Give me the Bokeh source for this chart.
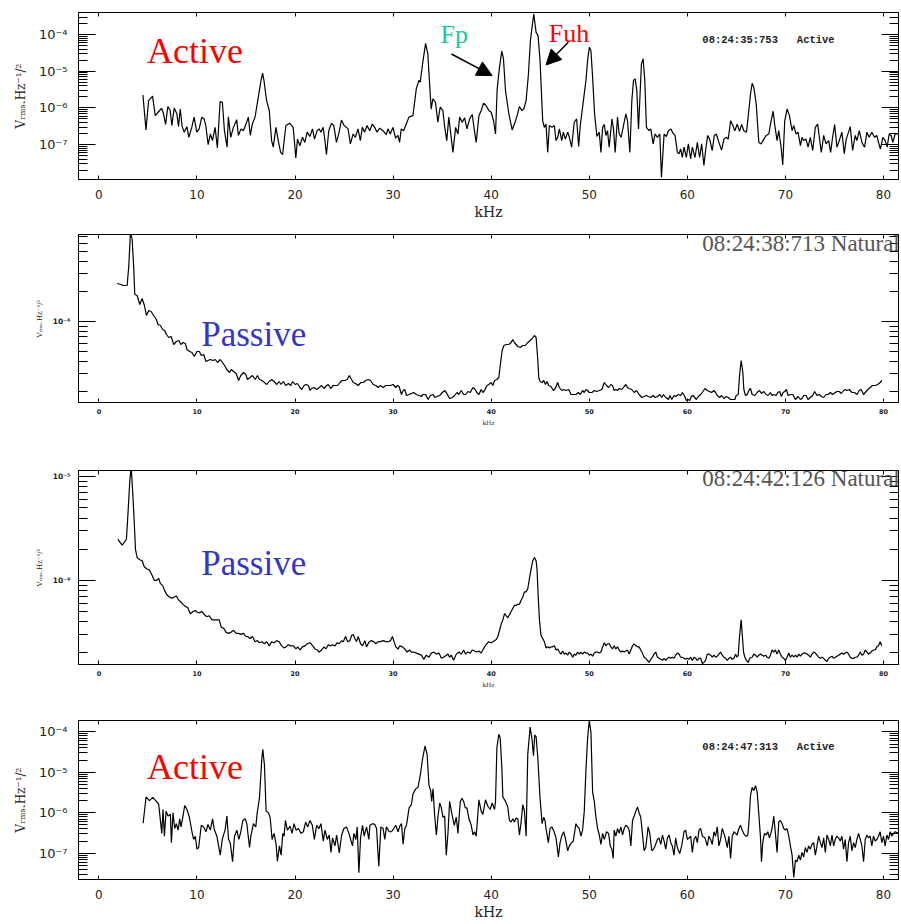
import numpy as np
from bokeh.plotting import figure
from bokeh.layouts import column
from bokeh.models import (Range1d, FixedTicker, LinearAxis, LogAxis, Label, Arrow,
                          NormalHead, CustomJSTickFormatter)
from bokeh.embed import file_html
from bokeh.resources import INLINE

# ---------------- data: (frequency kHz, log10 of V_rms.Hz^-1/2) ----------------
active1 = [
    (4.49, -5.65), (4.80, -6.60), (5.07, -5.80), (5.47, -5.68), (5.75, -6.21), (6.19, -6.07),
    (6.39, -6.01), (6.59, -6.16), (6.80, -6.45), (7.03, -5.96), (7.27, -6.07), (7.44, -6.48),
    (7.68, -6.00), (7.95, -6.16), (8.12, -6.51), (8.29, -6.03), (8.49, -6.51), (8.69, -6.66),
    (8.97, -6.51), (9.17, -6.80), (9.47, -6.53), (9.71, -6.25), (9.98, -6.66), (10.22, -6.57),
    (10.49, -6.25), (10.73, -6.30), (10.90, -6.48), (11.14, -7.00), (11.37, -6.71), (11.58, -6.89),
    (11.85, -6.53), (12.08, -7.09), (12.36, -5.83), (12.59, -5.85), (12.80, -6.62), (13.07, -7.07),
    (13.20, -6.24), (13.44, -6.80), (13.71, -6.53), (14.05, -6.32), (14.22, -6.75), (14.49, -6.57),
    (14.73, -6.62), (15.00, -6.44), (15.24, -6.25), (15.44, -6.75), (15.64, -6.44), (15.92, -6.25),
    (16.25, -5.71), (16.53, -5.25), (16.69, -5.05), (16.83, -5.25), (17.10, -5.80), (17.37, -6.07),
    (17.61, -6.89), (17.78, -7.07), (18.05, -6.53), (18.29, -6.89), (18.53, -7.21), (18.73, -7.27),
    (19.07, -6.48), (19.47, -6.42), (19.81, -6.53), (20.08, -7.36), (20.25, -6.85), (20.49, -7.03),
    (20.76, -6.80), (21.00, -6.94), (21.24, -6.66), (21.51, -6.78), (21.78, -6.57), (21.98, -6.85),
    (22.25, -6.62), (22.46, -6.57), (22.63, -6.66), (22.86, -6.53), (23.03, -6.85), (23.20, -7.27),
    (23.44, -6.62), (23.71, -6.42), (23.95, -6.48), (24.22, -6.94), (24.49, -6.66), (24.73, -6.33),
    (25.00, -6.48), (25.41, -6.57), (25.64, -6.98), (25.92, -6.71), (26.15, -6.80), (26.42, -6.57),
    (26.66, -6.89), (26.86, -6.53), (27.10, -6.66), (27.34, -6.48), (27.61, -6.62), (27.88, -6.44),
    (28.12, -6.53), (28.36, -6.66), (28.63, -6.55), (28.97, -6.62), (29.31, -6.73), (29.47, -6.57),
    (29.71, -6.71), (29.98, -6.53), (30.25, -6.82), (30.49, -6.75), (30.66, -6.94), (30.83, -6.57),
    (31.07, -6.62), (31.34, -6.44), (31.61, -6.25), (32.02, -6.21), (32.36, -5.48), (32.63, -5.25),
    (32.76, -5.30), (33.03, -4.75), (33.31, -4.24), (33.54, -4.53), (33.71, -5.30), (33.88, -6.03),
    (34.05, -5.75), (34.32, -5.85), (34.56, -6.39), (34.80, -5.98), (35.07, -6.07), (35.24, -6.48),
    (35.47, -6.89), (35.68, -6.25), (36.10, -7.21), (36.37, -6.53), (36.61, -6.71), (36.78, -6.25),
    (37.05, -6.39), (37.29, -6.27), (37.53, -6.57), (37.80, -6.30), (38.07, -6.18), (38.31, -6.66),
    (38.47, -6.94), (38.75, -6.21), (38.98, -6.07), (39.22, -5.87), (39.49, -5.94), (39.76, -6.07),
    (40.00, -6.12), (40.24, -6.35), (40.44, -6.71), (40.61, -5.48), (40.85, -4.89), (41.08, -4.45),
    (41.25, -4.66), (41.46, -5.53), (41.80, -6.16), (42.14, -6.60), (42.37, -6.44), (42.64, -6.21),
    (42.88, -5.96), (43.12, -6.07), (43.32, -6.03), (43.56, -5.80), (43.80, -5.07), (44.00, -4.16),
    (44.34, -3.44), (44.58, -3.94), (44.78, -4.03), (44.98, -4.71), (45.25, -6.35), (45.42, -6.53),
    (45.59, -6.44), (45.76, -7.21), (45.93, -6.48), (46.20, -6.53), (46.44, -6.48), (46.61, -6.89),
    (46.78, -6.80), (46.95, -6.57), (47.19, -6.89), (47.36, -6.66), (47.56, -6.85), (47.80, -6.66),
    (47.97, -6.80), (48.20, -7.07), (48.47, -6.39), (48.71, -6.30), (48.92, -7.05), (49.08, -6.48),
    (49.32, -5.98), (49.66, -5.25), (49.83, -4.71), (50.00, -4.35), (50.17, -4.44), (50.34, -5.16),
    (50.54, -6.16), (50.78, -6.78), (51.02, -6.66), (51.19, -7.21), (51.36, -6.53), (51.53, -6.45),
    (51.69, -6.75), (51.86, -6.62), (52.03, -7.07), (52.31, -6.30), (52.47, -6.57), (52.64, -7.21),
    (52.88, -6.25), (53.05, -6.71), (53.25, -6.80), (53.49, -6.48), (53.73, -6.16), (53.90, -6.35),
    (54.14, -7.21), (54.34, -5.80), (54.51, -5.25), (54.68, -5.21), (54.85, -5.53), (55.02, -6.57),
    (55.15, -5.80), (55.32, -4.80), (55.49, -4.66), (55.66, -5.25), (55.83, -6.53), (56.10, -6.62),
    (56.27, -6.57), (56.51, -6.98), (56.71, -6.71), (56.95, -6.80), (57.19, -6.71), (57.36, -7.89),
    (57.63, -6.71), (57.86, -6.78), (58.07, -6.62), (58.31, -6.57), (58.54, -6.69), (58.75, -6.75),
    (58.98, -7.21), (59.15, -7.25), (59.32, -7.12), (59.49, -7.35), (59.66, -7.07), (59.90, -7.35),
    (60.10, -6.98), (60.34, -7.39), (60.51, -7.07), (60.78, -7.35), (61.02, -6.94), (61.25, -7.35),
    (61.46, -6.98), (61.69, -7.57), (61.86, -7.16), (62.07, -6.75), (62.27, -6.85), (62.54, -7.16),
    (62.75, -6.75), (62.95, -6.71), (63.22, -6.94), (63.49, -7.15), (63.73, -6.85), (63.97, -6.80),
    (64.17, -6.85), (64.41, -6.35), (64.64, -6.48), (64.85, -6.62), (65.08, -6.44), (65.32, -6.64),
    (65.53, -6.45), (65.76, -6.62), (66.03, -6.66), (66.27, -6.07), (66.44, -5.62), (66.61, -5.33),
    (66.78, -5.44), (67.02, -5.89), (67.29, -6.94), (67.53, -6.98), (67.80, -6.85), (68.03, -6.75),
    (68.31, -6.71), (68.54, -6.35), (68.75, -6.09), (68.92, -6.48), (69.15, -6.89), (69.32, -6.62),
    (69.56, -7.07), (69.73, -7.55), (69.93, -6.35), (70.17, -6.03), (70.41, -6.21), (70.68, -6.62),
    (70.85, -6.48), (71.08, -6.71), (71.29, -6.66), (71.53, -7.03), (71.69, -6.80), (71.86, -6.89),
    (72.10, -6.85), (72.31, -7.07), (72.54, -6.80), (72.78, -7.16), (73.05, -6.53), (73.29, -6.44),
    (73.46, -6.80), (73.66, -7.21), (73.90, -6.75), (74.14, -6.98), (74.41, -6.89), (74.61, -7.21),
    (74.81, -6.80), (75.02, -6.45), (75.25, -7.07), (75.49, -6.89), (75.76, -6.66), (76.00, -7.25),
    (76.20, -6.85), (76.44, -6.66), (76.61, -6.51), (76.85, -7.16), (77.12, -6.75), (77.29, -6.89),
    (77.53, -6.62), (77.80, -6.94), (78.07, -7.07), (78.31, -6.66), (78.54, -6.80), (78.81, -6.66),
    (79.08, -6.80), (79.32, -6.75), (79.49, -6.94), (79.69, -7.12), (79.93, -6.80), (80.17, -6.89),
    (80.37, -7.07), (80.58, -6.71), (80.78, -6.75), (80.95, -6.94), (81.19, -6.71), (81.53, -6.71),
]

passive1 = [
    (1.86, -5.62), (2.27, -5.63), (2.47, -5.64), (2.71, -5.64), (2.88, -5.64), (3.05, -5.44),
    (3.22, -5.10), (3.39, -5.18), (3.56, -5.48), (3.66, -5.73), (3.90, -5.74), (4.17, -5.83),
    (4.41, -5.77), (4.64, -5.84), (4.85, -5.94), (5.08, -5.89), (5.32, -5.90), (5.59, -5.94),
    (5.86, -5.98), (6.03, -6.03), (6.27, -6.04), (6.51, -6.08), (6.71, -6.09), (6.88, -6.13),
    (7.12, -6.16), (7.36, -6.15), (7.63, -6.23), (7.90, -6.20), (8.14, -6.19), (8.37, -6.23),
    (8.58, -6.21), (8.81, -6.22), (8.98, -6.28), (9.25, -6.30), (9.49, -6.31), (9.73, -6.35),
    (10.00, -6.30), (10.24, -6.30), (10.44, -6.34), (10.68, -6.33), (10.92, -6.40), (11.12, -6.39),
    (11.36, -6.38), (11.63, -6.39), (11.86, -6.38), (12.10, -6.41), (12.37, -6.38), (12.61, -6.41),
    (12.81, -6.44), (13.05, -6.48), (13.32, -6.51), (13.49, -6.48), (13.73, -6.50), (14.00, -6.52),
    (14.24, -6.59), (14.47, -6.54), (14.75, -6.51), (14.98, -6.53), (15.15, -6.58), (15.42, -6.56),
    (15.66, -6.54), (15.93, -6.58), (16.17, -6.54), (16.37, -6.58), (16.61, -6.59), (16.88, -6.61),
    (17.12, -6.63), (17.36, -6.60), (17.63, -6.58), (17.86, -6.60), (18.14, -6.63), (18.37, -6.60),
    (18.58, -6.63), (18.81, -6.60), (19.05, -6.64), (19.32, -6.62), (19.56, -6.64), (19.76, -6.60),
    (20.00, -6.63), (20.24, -6.62), (20.51, -6.66), (20.68, -6.68), (20.92, -6.64), (21.12, -6.63),
    (21.36, -6.64), (21.53, -6.69), (21.69, -6.67), (21.93, -6.66), (22.20, -6.68), (22.47, -6.66),
    (22.71, -6.64), (22.95, -6.67), (23.22, -6.64), (23.39, -6.63), (23.63, -6.67), (23.90, -6.64),
    (24.14, -6.64), (24.34, -6.64), (24.58, -6.61), (24.81, -6.59), (25.08, -6.59), (25.32, -6.58),
    (25.53, -6.54), (25.76, -6.58), (25.93, -6.61), (26.17, -6.62), (26.44, -6.64), (26.71, -6.61),
    (26.95, -6.61), (27.22, -6.59), (27.46, -6.58), (27.69, -6.59), (27.97, -6.63), (28.24, -6.64),
    (28.47, -6.66), (28.71, -6.64), (28.98, -6.66), (29.25, -6.64), (29.49, -6.64), (29.73, -6.64),
    (30.00, -6.63), (30.27, -6.66), (30.44, -6.64), (30.61, -6.65), (30.85, -6.73), (31.02, -6.69),
    (31.19, -6.68), (31.36, -6.74), (31.63, -6.73), (31.86, -6.72), (32.10, -6.71), (32.37, -6.73),
    (32.64, -6.74), (32.88, -6.75), (33.05, -6.73), (33.32, -6.73), (33.56, -6.78), (33.80, -6.74),
    (34.07, -6.73), (34.24, -6.76), (34.47, -6.75), (34.75, -6.74), (35.02, -6.71), (35.25, -6.69),
    (35.42, -6.71), (35.59, -6.74), (35.76, -6.77), (36.03, -6.76), (36.27, -6.74), (36.51, -6.71),
    (36.71, -6.73), (36.95, -6.69), (37.19, -6.73), (37.39, -6.73), (37.63, -6.70), (37.86, -6.71),
    (38.14, -6.66), (38.37, -6.68), (38.54, -6.71), (38.75, -6.73), (38.98, -6.68), (39.15, -6.71),
    (39.32, -6.69), (39.56, -6.64), (39.76, -6.63), (40.00, -6.61), (40.17, -6.64), (40.34, -6.59),
    (40.58, -6.58), (40.78, -6.56), (40.92, -6.44), (41.12, -6.29), (41.29, -6.24), (41.53, -6.23),
    (41.80, -6.23), (42.03, -6.21), (42.20, -6.18), (42.37, -6.21), (42.54, -6.23), (42.71, -6.25),
    (42.95, -6.26), (43.22, -6.24), (43.49, -6.24), (43.73, -6.21), (43.97, -6.19), (44.17, -6.17),
    (44.41, -6.14), (44.58, -6.16), (44.75, -6.38), (44.85, -6.56), (44.98, -6.60), (45.19, -6.61),
    (45.36, -6.59), (45.53, -6.63), (45.69, -6.60), (45.86, -6.64), (46.10, -6.65), (46.34, -6.69),
    (46.54, -6.67), (46.78, -6.61), (46.95, -6.66), (47.19, -6.69), (47.39, -6.68), (47.63, -6.69),
    (47.90, -6.68), (48.14, -6.73), (48.37, -6.73), (48.64, -6.73), (48.88, -6.71), (49.08, -6.73),
    (49.32, -6.69), (49.49, -6.71), (49.66, -6.68), (49.83, -6.69), (50.00, -6.71), (50.27, -6.71),
    (50.51, -6.69), (50.75, -6.70), (51.02, -6.69), (51.29, -6.68), (51.53, -6.61), (51.76, -6.64),
    (51.97, -6.66), (52.20, -6.63), (52.37, -6.64), (52.54, -6.69), (52.71, -6.68), (52.88, -6.69),
    (53.05, -6.67), (53.32, -6.68), (53.56, -6.65), (53.73, -6.63), (53.90, -6.66), (54.07, -6.67),
    (54.34, -6.68), (54.58, -6.71), (54.81, -6.69), (55.08, -6.73), (55.36, -6.76), (55.59, -6.75),
    (55.83, -6.74), (56.03, -6.75), (56.27, -6.76), (56.51, -6.74), (56.71, -6.76), (56.95, -6.75),
    (57.19, -6.73), (57.39, -6.76), (57.56, -6.73), (57.80, -6.76), (58.07, -6.78), (58.24, -6.74),
    (58.41, -6.78), (58.64, -6.74), (58.81, -6.75), (59.08, -6.73), (59.32, -6.74), (59.49, -6.71),
    (59.69, -6.74), (59.90, -6.79), (60.07, -6.78), (60.24, -6.79), (60.41, -6.75), (60.58, -6.74),
    (60.75, -6.76), (60.92, -6.78), (61.12, -6.75), (61.36, -6.73), (61.59, -6.70), (61.80, -6.67),
    (62.03, -6.69), (62.27, -6.70), (62.47, -6.71), (62.71, -6.69), (62.88, -6.71), (63.05, -6.74),
    (63.29, -6.76), (63.49, -6.74), (63.73, -6.77), (63.97, -6.75), (64.17, -6.76), (64.41, -6.78),
    (64.64, -6.78), (64.85, -6.78), (64.98, -6.74), (65.19, -6.73), (65.32, -6.54), (65.49, -6.39),
    (65.66, -6.51), (65.76, -6.68), (65.93, -6.74), (66.10, -6.73), (66.27, -6.69), (66.44, -6.67),
    (66.61, -6.73), (66.88, -6.74), (67.12, -6.71), (67.36, -6.69), (67.56, -6.72), (67.80, -6.70),
    (68.03, -6.73), (68.24, -6.74), (68.47, -6.71), (68.64, -6.74), (68.81, -6.73), (69.05, -6.74),
    (69.22, -6.71), (69.42, -6.70), (69.59, -6.75), (69.76, -6.71), (69.93, -6.70), (70.10, -6.68),
    (70.27, -6.74), (70.51, -6.73), (70.75, -6.73), (71.02, -6.78), (71.29, -6.75), (71.53, -6.78),
    (71.69, -6.77), (71.86, -6.74), (72.10, -6.74), (72.31, -6.78), (72.54, -6.76), (72.78, -6.74),
    (72.98, -6.70), (73.22, -6.74), (73.46, -6.73), (73.66, -6.75), (73.90, -6.76), (74.14, -6.73),
    (74.34, -6.73), (74.58, -6.71), (74.81, -6.73), (75.08, -6.71), (75.25, -6.70), (75.49, -6.70),
    (75.69, -6.72), (75.93, -6.69), (76.10, -6.68), (76.27, -6.69), (76.51, -6.68), (76.78, -6.71),
    (77.05, -6.71), (77.29, -6.73), (77.53, -6.69), (77.73, -6.68), (77.97, -6.73), (78.14, -6.71),
    (78.41, -6.68), (78.64, -6.66), (78.88, -6.64), (79.15, -6.64), (79.42, -6.63), (79.66, -6.61),
    (79.83, -6.59),
]

passive2 = [
    (1.93, -5.60), (2.14, -5.63), (2.37, -5.66), (2.61, -5.63), (2.81, -5.60), (2.98, -5.33),
    (3.15, -5.04), (3.29, -4.90), (3.46, -5.17), (3.63, -5.49), (3.73, -5.70), (3.90, -5.78),
    (4.17, -5.80), (4.41, -5.81), (4.64, -5.87), (4.92, -5.89), (5.15, -5.90), (5.42, -5.95),
    (5.66, -6.00), (5.86, -6.00), (6.10, -5.98), (6.27, -6.03), (6.51, -6.05), (6.71, -6.10),
    (6.95, -6.14), (7.19, -6.16), (7.46, -6.17), (7.69, -6.16), (7.90, -6.15), (8.14, -6.19),
    (8.37, -6.21), (8.58, -6.23), (8.81, -6.25), (9.05, -6.26), (9.32, -6.32), (9.59, -6.30),
    (9.83, -6.29), (10.07, -6.31), (10.27, -6.31), (10.51, -6.30), (10.75, -6.33), (11.02, -6.35),
    (11.25, -6.34), (11.53, -6.38), (11.76, -6.38), (12.03, -6.38), (12.27, -6.38), (12.47, -6.45),
    (12.71, -6.46), (12.98, -6.50), (13.22, -6.51), (13.46, -6.50), (13.73, -6.48), (14.00, -6.51),
    (14.24, -6.51), (14.47, -6.52), (14.75, -6.51), (14.98, -6.54), (15.15, -6.54), (15.42, -6.56),
    (15.66, -6.54), (15.93, -6.59), (16.17, -6.58), (16.37, -6.60), (16.61, -6.59), (16.88, -6.61),
    (17.12, -6.59), (17.36, -6.63), (17.63, -6.59), (17.86, -6.60), (18.14, -6.58), (18.37, -6.59),
    (18.64, -6.63), (18.88, -6.65), (19.08, -6.64), (19.32, -6.62), (19.56, -6.63), (19.83, -6.63),
    (20.10, -6.66), (20.27, -6.64), (20.51, -6.67), (20.75, -6.64), (21.02, -6.63), (21.25, -6.61),
    (21.53, -6.60), (21.80, -6.63), (22.03, -6.66), (22.27, -6.67), (22.47, -6.69), (22.71, -6.67),
    (22.95, -6.64), (23.15, -6.66), (23.39, -6.62), (23.63, -6.63), (23.83, -6.62), (24.07, -6.63),
    (24.31, -6.60), (24.51, -6.61), (24.75, -6.58), (24.92, -6.59), (25.15, -6.54), (25.36, -6.59),
    (25.59, -6.58), (25.76, -6.53), (25.93, -6.52), (26.10, -6.56), (26.27, -6.59), (26.44, -6.54),
    (26.68, -6.61), (26.88, -6.63), (27.12, -6.58), (27.29, -6.64), (27.56, -6.59), (27.80, -6.58),
    (28.03, -6.59), (28.24, -6.61), (28.47, -6.59), (28.71, -6.59), (28.98, -6.58), (29.25, -6.59),
    (29.49, -6.59), (29.73, -6.58), (29.93, -6.54), (30.10, -6.59), (30.27, -6.64), (30.51, -6.66),
    (30.68, -6.63), (30.95, -6.64), (31.19, -6.66), (31.42, -6.69), (31.69, -6.67), (31.86, -6.69),
    (32.10, -6.69), (32.37, -6.70), (32.64, -6.71), (32.88, -6.72), (33.12, -6.76), (33.39, -6.72),
    (33.66, -6.74), (33.90, -6.70), (34.14, -6.69), (34.41, -6.71), (34.68, -6.70), (34.92, -6.75),
    (35.15, -6.74), (35.42, -6.72), (35.59, -6.71), (35.76, -6.74), (35.93, -6.72), (36.17, -6.77),
    (36.44, -6.71), (36.71, -6.69), (36.95, -6.71), (37.19, -6.67), (37.39, -6.71), (37.63, -6.69),
    (37.86, -6.70), (38.07, -6.67), (38.31, -6.68), (38.54, -6.69), (38.75, -6.68), (38.98, -6.70),
    (39.15, -6.67), (39.32, -6.64), (39.56, -6.61), (39.76, -6.59), (40.00, -6.60), (40.17, -6.59),
    (40.34, -6.58), (40.51, -6.57), (40.68, -6.54), (40.85, -6.48), (41.02, -6.42), (41.19, -6.38),
    (41.36, -6.32), (41.53, -6.34), (41.69, -6.36), (41.86, -6.33), (42.03, -6.30), (42.20, -6.27),
    (42.37, -6.24), (42.54, -6.24), (42.71, -6.23), (42.88, -6.23), (43.05, -6.19), (43.22, -6.16),
    (43.39, -6.11), (43.56, -6.11), (43.73, -6.08), (43.90, -5.98), (44.07, -5.89), (44.24, -5.81),
    (44.41, -5.78), (44.58, -5.81), (44.68, -5.90), (44.78, -6.13), (44.92, -6.38), (45.08, -6.53),
    (45.25, -6.56), (45.42, -6.59), (45.59, -6.65), (45.76, -6.64), (45.93, -6.65), (46.10, -6.64),
    (46.27, -6.64), (46.44, -6.63), (46.61, -6.67), (46.78, -6.66), (46.95, -6.69), (47.12, -6.71),
    (47.29, -6.68), (47.46, -6.71), (47.63, -6.70), (47.80, -6.72), (47.97, -6.69), (48.14, -6.71),
    (48.31, -6.74), (48.47, -6.71), (48.64, -6.72), (48.81, -6.69), (48.98, -6.71), (49.15, -6.69),
    (49.32, -6.71), (49.49, -6.69), (49.66, -6.70), (49.83, -6.70), (50.00, -6.72), (50.17, -6.71),
    (50.34, -6.73), (50.51, -6.70), (50.68, -6.69), (50.85, -6.69), (51.02, -6.70), (51.19, -6.69),
    (51.36, -6.64), (51.53, -6.60), (51.69, -6.63), (51.86, -6.61), (52.03, -6.61), (52.20, -6.64),
    (52.37, -6.66), (52.54, -6.63), (52.71, -6.66), (52.88, -6.64), (53.05, -6.67), (53.22, -6.69),
    (53.39, -6.68), (53.56, -6.69), (53.73, -6.68), (53.90, -6.67), (54.07, -6.71), (54.24, -6.67),
    (54.41, -6.63), (54.58, -6.61), (54.75, -6.63), (54.92, -6.64), (55.08, -6.64), (55.25, -6.67),
    (55.42, -6.70), (55.59, -6.74), (55.76, -6.75), (55.93, -6.77), (56.10, -6.79), (56.27, -6.76),
    (56.44, -6.74), (56.61, -6.71), (56.78, -6.69), (56.95, -6.74), (57.12, -6.75), (57.29, -6.76),
    (57.46, -6.77), (57.63, -6.75), (57.80, -6.77), (57.97, -6.75), (58.14, -6.74), (58.31, -6.75),
    (58.47, -6.74), (58.64, -6.75), (58.81, -6.72), (58.98, -6.70), (59.15, -6.71), (59.32, -6.74),
    (59.49, -6.74), (59.66, -6.75), (59.83, -6.76), (60.00, -6.75), (60.17, -6.76), (60.34, -6.74),
    (60.51, -6.77), (60.68, -6.74), (60.85, -6.75), (61.02, -6.77), (61.19, -6.75), (61.36, -6.75),
    (61.53, -6.80), (61.69, -6.79), (61.86, -6.77), (62.03, -6.71), (62.20, -6.71), (62.37, -6.72),
    (62.54, -6.74), (62.71, -6.72), (62.88, -6.74), (63.05, -6.73), (63.22, -6.71), (63.39, -6.69),
    (63.56, -6.72), (63.73, -6.74), (63.90, -6.75), (64.07, -6.77), (64.24, -6.75), (64.41, -6.74),
    (64.58, -6.76), (64.75, -6.75), (64.92, -6.71), (65.05, -6.74), (65.19, -6.72), (65.32, -6.54),
    (65.49, -6.38), (65.59, -6.51), (65.73, -6.69), (65.86, -6.74), (66.03, -6.77), (66.20, -6.79),
    (66.37, -6.75), (66.61, -6.74), (66.78, -6.71), (66.95, -6.72), (67.12, -6.74), (67.29, -6.72),
    (67.46, -6.71), (67.63, -6.72), (67.80, -6.73), (67.97, -6.72), (68.14, -6.74), (68.31, -6.75),
    (68.47, -6.72), (68.64, -6.67), (68.81, -6.69), (68.98, -6.67), (69.15, -6.71), (69.32, -6.67),
    (69.49, -6.71), (69.66, -6.74), (69.83, -6.75), (70.00, -6.77), (70.17, -6.74), (70.34, -6.70),
    (70.51, -6.74), (70.68, -6.72), (70.85, -6.74), (71.02, -6.72), (71.19, -6.74), (71.36, -6.71),
    (71.53, -6.73), (71.69, -6.71), (71.86, -6.70), (72.03, -6.70), (72.20, -6.71), (72.37, -6.72),
    (72.54, -6.74), (72.71, -6.71), (72.88, -6.69), (73.05, -6.70), (73.22, -6.72), (73.39, -6.74),
    (73.56, -6.75), (73.73, -6.74), (73.90, -6.75), (74.07, -6.77), (74.24, -6.78), (74.41, -6.75),
    (74.58, -6.74), (74.75, -6.73), (74.92, -6.75), (75.08, -6.74), (75.25, -6.73), (75.42, -6.72),
    (75.59, -6.71), (75.76, -6.70), (75.93, -6.71), (76.10, -6.70), (76.27, -6.69), (76.44, -6.71),
    (76.61, -6.74), (76.78, -6.75), (76.95, -6.75), (77.12, -6.74), (77.29, -6.74), (77.46, -6.72),
    (77.63, -6.69), (77.80, -6.72), (77.97, -6.71), (78.14, -6.67), (78.31, -6.69), (78.47, -6.71),
    (78.64, -6.70), (78.81, -6.68), (78.98, -6.67), (79.15, -6.67), (79.32, -6.64), (79.49, -6.63),
    (79.66, -6.59), (79.83, -6.63),
]

active2 = [
    (4.51, -6.26), (4.81, -5.61), (5.15, -5.70), (5.49, -5.62), (5.86, -5.72), (6.10, -5.79),
    (6.27, -6.19), (6.41, -6.51), (6.54, -5.92), (6.68, -6.58), (6.85, -5.96), (7.05, -6.08),
    (7.29, -6.04), (7.39, -6.74), (7.56, -6.00), (7.73, -6.39), (7.90, -6.27), (8.07, -6.43),
    (8.24, -6.15), (8.37, -6.35), (8.58, -6.08), (8.75, -5.82), (8.98, -5.92), (9.22, -6.11),
    (9.49, -6.47), (9.66, -6.66), (9.83, -6.58), (10.00, -6.90), (10.17, -6.86), (10.44, -6.31),
    (10.68, -6.35), (10.92, -6.47), (11.12, -6.29), (11.36, -6.43), (11.59, -6.15), (11.76, -6.41),
    (12.03, -6.58), (12.37, -7.05), (12.58, -6.66), (12.88, -6.41), (13.05, -6.08), (13.22, -6.66),
    (13.39, -6.74), (13.63, -7.21), (13.83, -6.58), (14.07, -6.43), (14.27, -6.66), (14.47, -6.47),
    (14.68, -6.19), (14.92, -6.15), (15.08, -6.27), (15.36, -6.86), (15.49, -6.58), (15.76, -6.27),
    (16.00, -6.35), (16.14, -6.00), (16.37, -5.64), (16.61, -4.67), (16.71, -4.43), (16.88, -4.82),
    (17.05, -5.96), (17.29, -6.00), (17.46, -6.11), (17.66, -6.66), (17.86, -6.51), (18.07, -6.78),
    (18.20, -7.20), (18.41, -6.82), (18.58, -7.05), (18.75, -6.51), (18.88, -6.58), (19.02, -6.19),
    (19.22, -6.43), (19.49, -6.33), (19.69, -6.51), (19.90, -6.27), (20.10, -6.43), (20.34, -6.39),
    (20.61, -6.51), (20.85, -6.47), (21.08, -6.23), (21.29, -6.35), (21.53, -6.19), (21.76, -6.31),
    (21.97, -6.66), (22.20, -6.31), (22.44, -6.39), (22.64, -6.27), (22.88, -6.70), (23.05, -6.43),
    (23.29, -6.66), (23.49, -6.55), (23.66, -6.98), (23.83, -6.62), (24.07, -6.82), (24.24, -6.55),
    (24.51, -6.99), (24.75, -6.55), (24.98, -6.39), (25.25, -6.35), (25.49, -6.51), (25.66, -6.65),
    (25.86, -6.82), (26.00, -6.51), (26.20, -6.66), (26.34, -6.35), (26.51, -7.48), (26.68, -6.62),
    (26.88, -6.31), (27.05, -6.58), (27.29, -6.35), (27.53, -6.66), (27.63, -6.31), (27.90, -6.27),
    (28.14, -6.29), (28.31, -6.39), (28.54, -7.33), (28.75, -6.35), (28.98, -6.39), (29.15, -6.66),
    (29.32, -6.35), (29.59, -6.47), (29.83, -6.47), (30.07, -6.39), (30.27, -6.31), (30.51, -6.47),
    (30.68, -6.33), (30.85, -6.27), (31.02, -6.78), (31.19, -6.39), (31.36, -6.31), (31.63, -5.88),
    (31.86, -5.80), (32.03, -5.53), (32.31, -5.41), (32.54, -5.37), (32.78, -5.06), (32.98, -4.70),
    (33.25, -4.35), (33.46, -4.55), (33.66, -5.33), (33.83, -5.45), (33.93, -5.72), (34.07, -5.41),
    (34.24, -6.08), (34.41, -6.55), (34.58, -6.08), (34.75, -5.76), (34.92, -5.88), (35.08, -6.11),
    (35.25, -6.08), (35.42, -7.05), (35.59, -6.51), (35.76, -5.72), (36.03, -6.08), (36.24, -6.31),
    (36.44, -6.11), (36.61, -6.51), (36.85, -5.72), (37.02, -5.64), (37.19, -5.72), (37.36, -5.88),
    (37.53, -5.88), (37.73, -6.15), (37.97, -6.31), (38.14, -6.55), (38.31, -6.47), (38.47, -6.58),
    (38.75, -5.68), (38.98, -5.96), (39.15, -6.04), (39.42, -5.68), (39.66, -5.84), (39.90, -5.92),
    (40.10, -5.76), (40.34, -5.92), (40.44, -5.72), (40.58, -4.39), (40.78, -4.06), (40.92, -4.16),
    (41.08, -4.86), (41.19, -5.61), (41.46, -5.72), (41.69, -5.86), (41.86, -6.19), (42.03, -6.23),
    (42.20, -6.15), (42.37, -6.23), (42.54, -6.13), (42.71, -6.15), (42.88, -6.55), (43.05, -6.23),
    (43.22, -5.80), (43.39, -5.96), (43.56, -6.58), (43.73, -4.55), (43.97, -3.88), (44.17, -4.20),
    (44.31, -4.59), (44.44, -4.08), (44.58, -4.12), (44.75, -4.63), (44.98, -5.64), (45.19, -6.27),
    (45.36, -6.11), (45.49, -6.19), (45.59, -6.39), (45.83, -6.74), (46.00, -6.39), (46.20, -6.35),
    (46.41, -6.47), (46.61, -6.62), (46.85, -7.09), (47.02, -6.74), (47.19, -6.58), (47.39, -6.47),
    (47.56, -6.62), (47.80, -6.94), (47.97, -6.82), (48.20, -6.74), (48.37, -6.70), (48.64, -6.27),
    (48.81, -6.35), (48.98, -6.39), (49.15, -6.58), (49.32, -6.43), (49.49, -5.96), (49.66, -4.94),
    (49.83, -4.16), (50.00, -3.73), (50.17, -4.00), (50.34, -5.49), (50.51, -5.72), (50.68, -6.11),
    (50.85, -6.39), (51.02, -6.55), (51.19, -6.78), (51.36, -6.51), (51.53, -6.66), (51.76, -6.47),
    (51.97, -6.51), (52.14, -6.82), (52.31, -6.90), (52.44, -7.13), (52.54, -6.43), (52.71, -6.58),
    (52.88, -6.39), (53.05, -6.51), (53.22, -6.35), (53.39, -6.55), (53.56, -6.39), (53.73, -6.31),
    (53.93, -6.35), (54.07, -6.43), (54.24, -6.82), (54.41, -6.19), (54.58, -6.08), (54.75, -5.96),
    (54.92, -5.86), (55.08, -6.00), (55.25, -6.11), (55.42, -6.51), (55.59, -6.94), (55.76, -6.86),
    (56.00, -6.35), (56.17, -6.51), (56.37, -6.94), (56.54, -6.90), (56.71, -6.82), (56.95, -6.66),
    (57.12, -6.62), (57.29, -6.78), (57.46, -6.55), (57.63, -6.70), (57.80, -6.90), (57.97, -6.62),
    (58.14, -6.55), (58.31, -6.74), (58.47, -6.82), (58.64, -7.05), (58.81, -6.62), (58.98, -6.86),
    (59.22, -7.01), (59.42, -6.82), (59.66, -6.47), (59.83, -6.43), (60.00, -6.66), (60.17, -6.62),
    (60.34, -6.58), (60.51, -6.98), (60.68, -6.66), (60.85, -6.58), (61.02, -6.74), (61.19, -6.43),
    (61.36, -6.39), (61.53, -6.58), (61.80, -6.62), (62.03, -6.82), (62.20, -6.58), (62.37, -6.66),
    (62.54, -6.78), (62.71, -6.47), (62.88, -6.58), (63.05, -6.35), (63.22, -6.82), (63.39, -6.66),
    (63.56, -6.39), (63.73, -6.51), (63.90, -6.66), (64.07, -6.86), (64.24, -6.58), (64.41, -7.13),
    (64.58, -6.58), (64.75, -6.47), (64.92, -6.51), (65.08, -6.55), (65.25, -6.39), (65.42, -6.31),
    (65.59, -6.43), (65.83, -6.55), (66.03, -6.58), (66.17, -6.55), (66.27, -6.27), (66.44, -5.57),
    (66.61, -5.37), (66.78, -5.45), (66.95, -5.33), (67.12, -5.49), (67.29, -6.04), (67.46, -6.62),
    (67.56, -7.21), (67.69, -6.74), (67.86, -6.51), (68.03, -6.55), (68.20, -6.47), (68.37, -6.62),
    (68.51, -6.51), (68.64, -6.39), (68.81, -6.08), (68.98, -6.51), (69.15, -6.98), (69.32, -6.23),
    (69.49, -6.19), (69.66, -6.27), (69.83, -6.39), (70.00, -6.43), (70.17, -6.39), (70.34, -6.58),
    (70.51, -6.82), (70.68, -7.05), (70.85, -7.60), (71.02, -7.17), (71.19, -7.21), (71.36, -7.05),
    (71.53, -7.17), (71.69, -6.98), (71.86, -7.09), (72.03, -6.86), (72.20, -6.98), (72.37, -6.82),
    (72.54, -6.90), (72.71, -6.78), (72.88, -6.74), (73.05, -7.05), (73.22, -6.82), (73.39, -6.58),
    (73.56, -6.74), (73.73, -6.86), (73.90, -6.62), (74.07, -6.98), (74.24, -6.55), (74.41, -6.66),
    (74.58, -6.82), (74.75, -6.55), (74.92, -6.82), (75.08, -6.66), (75.25, -6.58), (75.42, -6.62),
    (75.59, -6.70), (75.76, -6.58), (75.93, -6.90), (76.10, -6.66), (76.27, -7.21), (76.44, -6.74),
    (76.61, -6.58), (76.78, -6.94), (76.95, -6.74), (77.12, -6.86), (77.29, -6.66), (77.46, -6.51),
    (77.63, -6.66), (77.80, -6.82), (77.97, -7.21), (78.14, -6.66), (78.31, -6.55), (78.47, -6.62),
    (78.64, -6.58), (78.81, -6.82), (78.98, -6.58), (79.15, -6.70), (79.32, -6.66), (79.49, -6.58),
    (79.66, -6.47), (79.83, -6.74), (80.00, -6.58), (80.17, -6.82), (80.34, -6.55), (80.51, -6.66),
    (80.68, -6.47), (80.85, -6.58), (81.02, -6.51), (81.19, -6.47), (81.53, -6.51),
]

x_ticks = [0, 10, 20, 30, 40, 50, 60, 70, 80]
mantissas = [2, 3, 4, 5, 6, 7, 8, 9]
NB = "\u00a0"
time_labels = ["08:24:35:753" + NB * 3 + "Active", "08:24:38:713" + NB + "Natural",
               "08:24:42:126" + NB + "Natural", "08:24:47:313" + NB * 3 + "Active"]
y_label = "V\u1d63\u2098\u209b.Hz\u207b\u00b9/\u00b2"

SUP_JS = """
const s = {"-": "\u207b", "0": "\u2070", "1": "\u00b9", "2": "\u00b2", "3": "\u00b3",
           "4": "\u2074", "5": "\u2075", "6": "\u2076", "7": "\u2077", "8": "\u2078", "9": "\u2079"};
const e = Math.round(Math.log10(tick));
let out = "10";
for (const c of String(e)) { out += s[c]; }
return out;
"""
BLANK_JS = "return ' ';"

SERIF = "Liberation Serif"


def panel(series, height, b_top, b_bottom, ylog, majors, decades, small):
    lo, hi = ylog
    ymin, ymax = 10.0 ** lo, 10.0 ** hi
    p = figure(width=901, height=height, x_range=Range1d(-2.08, 81.53),
               y_range=Range1d(ymin, ymax), y_axis_type="log",
               output_backend="svg", toolbar_location=None,
               min_border_left=78, min_border_right=0,
               min_border_top=b_top, min_border_bottom=b_bottom)
    p.xgrid.visible = False
    p.ygrid.visible = False
    p.outline_line_color = "black"
    p.outline_line_width = 1
    p.background_fill_color = "white"
    p.border_fill_color = "white"

    minors = [m * 10.0 ** d for d in decades for m in mantissas
              if ymin <= m * 10.0 ** d <= ymax]

    tick_fs = "7.5px" if small else "13px"
    xt_fs = "6.5px" if small else "12px"
    lab_fs = "7px" if small else "12px"
    klab_fs = "6px" if small else "14px"

    # bottom axis
    xa = p.xaxis[0]
    xa.ticker = FixedTicker(ticks=x_ticks, minor_ticks=[])
    xa.major_tick_in = 4
    xa.major_tick_out = 0
    xa.minor_tick_line_color = None
    xa.major_label_text_font = "DejaVu Sans"
    xa.major_label_text_font_size = xt_fs
    xa.major_label_text_font_style = "bold" if small else "normal"
    xa.major_label_text_color = "#222222"
    xa.major_label_standoff = 6 if small else 10
    xa.axis_label = "kHz"
    xa.axis_label_text_font = "DejaVu Serif"
    xa.axis_label_text_font_style = "normal"
    xa.axis_label_text_font_size = klab_fs
    xa.axis_label_text_color = "#222222"
    xa.axis_label_standoff = 2
    xa.axis_line_color = "black"
    xa.major_tick_line_color = "black"

    # left axis
    ya = p.yaxis[0]
    ya.ticker = FixedTicker(ticks=majors, minor_ticks=minors)
    ya.formatter = CustomJSTickFormatter(code=SUP_JS)
    ya.major_tick_in = 17
    ya.major_tick_out = 0
    ya.minor_tick_in = 9
    ya.minor_tick_out = 0
    ya.major_label_text_font = "DejaVu Sans"
    ya.major_label_text_font_size = tick_fs
    ya.major_label_text_font_style = "bold" if small else "normal"
    ya.major_label_text_color = "#222222"
    ya.major_label_standoff = 8 if small else 11
    ya.axis_label = y_label
    ya.axis_label_text_font = "DejaVu Serif"
    ya.axis_label_text_font_style = "normal"
    ya.axis_label_text_font_size = lab_fs
    ya.axis_label_text_color = "#222222"
    ya.axis_label_standoff = 6 if small else 8
    ya.axis_line_color = "black"
    ya.major_tick_line_color = "black"
    ya.minor_tick_line_color = "black"

    # mirrored top and right axes (ticks only)
    top = LinearAxis(ticker=FixedTicker(ticks=x_ticks, minor_ticks=[]),
                     formatter=CustomJSTickFormatter(code=BLANK_JS),
                     major_tick_in=4, major_tick_out=0, minor_tick_line_color=None,
                     major_label_text_font_size="1px", major_label_standoff=0,
                     axis_line_color="black")
    p.add_layout(top, "above")
    right = LogAxis(ticker=FixedTicker(ticks=majors, minor_ticks=minors),
                    formatter=CustomJSTickFormatter(code=BLANK_JS),
                    major_tick_in=17, major_tick_out=0, minor_tick_in=9, minor_tick_out=0,
                    major_label_text_font_size="1px", major_label_standoff=0,
                    axis_line_color="black")
    p.add_layout(right, "right")

    khz = [f for f, _ in series]
    val = [10.0 ** v for _, v in series]
    p.line(khz, val, line_color="black", line_width=1.2)
    return p


p1 = panel(active1, 222, 12, 43, (-7.95, -3.40), [1e-7, 1e-6, 1e-5, 1e-4], [-8, -7, -6, -5, -4], False)
p2 = panel(passive1, 236, 12, 56, (-6.81, -5.13), [1e-6], [-7, -6], True)
p3 = panel(passive2, 254, 12, 48, (-6.81, -4.94), [1e-6, 1e-5], [-7, -6, -5], True)
p4 = panel(active2, 210, 8, 37, (-7.65, -3.72), [1e-7, 1e-6, 1e-5, 1e-4], [-8, -7, -6, -5, -4], False)

# --- annotations ---
p1.add_layout(Label(x=4.9, y=10 ** -4.46, text="Active", text_font=SERIF,
                    text_font_size="36px", text_color="#ff0000", text_baseline="alphabetic"))
p1.add_layout(Label(x=34.84, y=10 ** -3.99, text="Fp", text_font=SERIF,
                    text_font_size="26px", text_color="#14cc98", text_baseline="alphabetic"))
p1.add_layout(Label(x=45.86, y=10 ** -3.96, text="Fuh", text_font=SERIF,
                    text_font_size="26px", text_color="#ff0000", text_baseline="alphabetic"))
p1.add_layout(Arrow(end=NormalHead(size=15, fill_color="black", line_color="black"),
                    x_start=35.95, y_start=10 ** -4.53, x_end=40.10, y_end=10 ** -5.12,
                    line_color="black", line_width=1.5))
p1.add_layout(Arrow(end=NormalHead(size=15, fill_color="black", line_color="black"),
                    x_start=47.86, y_start=10 ** -4.21, x_end=45.59, y_end=10 ** -4.83,
                    line_color="black", line_width=1.5))
p1.add_layout(Label(x=61.53, y=10 ** -4.14, text=time_labels[0], text_font="Liberation Mono",
                    text_font_size="10.5px", text_font_style="bold", text_color="#222222",
                    text_baseline="middle"))

p2.add_layout(Label(x=61.53, y=10 ** -5.22, text=time_labels[1], text_font=SERIF,
                    text_font_size="23px", text_color="#555555", text_baseline="alphabetic"))
p2.add_layout(Label(x=10.43, y=10 ** -6.13, text="Passive", text_font=SERIF,
                    text_font_size="35px", text_color="#3535c8", text_baseline="alphabetic"))

p3.add_layout(Label(x=61.53, y=10 ** -5.02, text=time_labels[2], text_font=SERIF,
                    text_font_size="23px", text_color="#555555", text_baseline="alphabetic"))
p3.add_layout(Label(x=10.43, y=10 ** -5.84, text="Passive", text_font=SERIF,
                    text_font_size="35px", text_color="#3535c8", text_baseline="alphabetic"))

p4.add_layout(Label(x=4.9, y=10 ** -4.87, text="Active", text_font=SERIF,
                    text_font_size="36px", text_color="#ff0000", text_baseline="alphabetic"))
p4.add_layout(Label(x=61.53, y=10 ** -4.37, text=time_labels[3], text_font="Liberation Mono",
                    text_font_size="10.5px", text_font_style="bold", text_color="#222222",
                    text_baseline="middle"))

layout = column(p1, p2, p3, p4, spacing=0)
open("out.html", "w").write(file_html(layout, INLINE))
